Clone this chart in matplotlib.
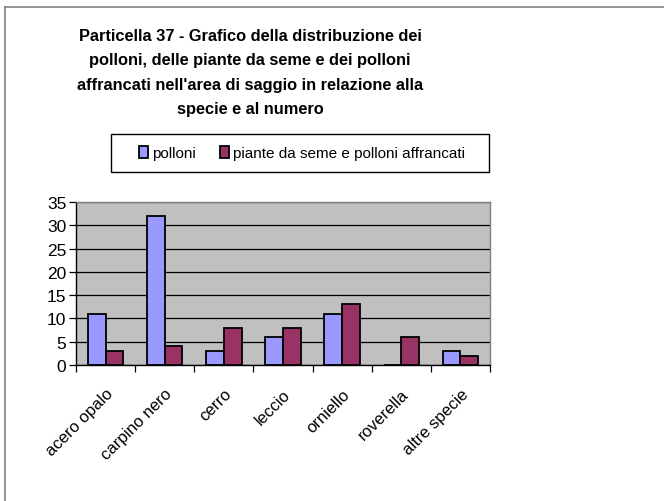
import numpy as np
import matplotlib.pyplot as plt
from matplotlib.patches import Rectangle
from matplotlib.lines import Line2D

plt.rcParams['font.family'] = ['Liberation Sans', 'DejaVu Sans']

species = ['acero opalo', 'carpino nero', 'cerro', 'leccio', 'orniello', 'roverella', 'altre specie']
polloni = [11, 32, 3, 6, 11, 0, 3]
piante_seme = [3, 4, 8, 8, 13, 6, 2]
series_names = ['polloni', 'piante da seme e polloni affrancati']
title = ("Particella 37 - Grafico della distribuzione dei\n"
         "polloni, delle piante da seme e dei polloni\n"
         "affrancati nell'area di saggio in relazione alla\n"
         "specie e al numero")

c_blue = '#9999FF'
c_red = '#993366'

fig = plt.figure(figsize=(6.64, 5.02), dpi=100)
W, H = 664, 502

# bordo esterno del grafico (visibili solo sopra e a sinistra)
fig.add_artist(Line2D([5 / W, 5 / W], [0, 1 - 8 / H], color='#808080', lw=1.2))
fig.add_artist(Line2D([5 / W, 1], [1 - 8 / H, 1 - 8 / H], color='#808080', lw=1.2))

ax = fig.add_axes([76 / W, 1 - 366 / H, 414 / W, 163 / H])
ax.set_facecolor('#C0C0C0')

x = np.arange(len(species))
bw = 0.3
ax.bar(x - bw / 2, polloni, bw, color=c_blue, edgecolor='black', linewidth=1.3, zorder=3)
ax.bar(x + bw / 2, piante_seme, bw, color=c_red, edgecolor='black', linewidth=1.3, zorder=3)

ax.set_xlim(-0.5, len(species) - 0.5)
ax.set_ylim(0, 35)
ax.set_yticks(range(0, 36, 5))
ax.yaxis.grid(True, color='black', lw=0.9, zorder=1)
ax.set_axisbelow(True)

ax.set_xticks(np.arange(-0.5, len(species), 1))
ax.set_xticklabels([])
ax.set_xticks(x, minor=True)
ax.set_xticklabels(species, minor=True, rotation=45, ha='right', rotation_mode='anchor', fontsize=12)
ax.tick_params(axis='x', which='minor', length=0, pad=15)
ax.tick_params(axis='x', which='major', length=5, width=0.9, color='black')
ax.tick_params(axis='y', length=5, width=0.9, labelsize=12.5, pad=2)

ax.spines['left'].set_color('black')
ax.spines['bottom'].set_color('black')
ax.spines['top'].set_color('#808080')
ax.spines['right'].set_color('#808080')
for s in ax.spines.values():
    s.set_linewidth(1.0)

fig.text(250 / W, 1 - 73 / H, title, ha='center', va='center', fontsize=11.8,
         fontweight='bold', linespacing=1.8)

# riquadro della legenda
fig.add_artist(Rectangle((111 / W, 1 - 173 / H), 378 / W, 38 / H, transform=fig.transFigure,
                         facecolor='white', edgecolor='black', lw=1.0))
handles = [Rectangle((0, 0), 1, 1, facecolor=c, edgecolor='black', lw=1.3) for c in (c_blue, c_red)]
fig.legend(handles, series_names, loc='center', bbox_to_anchor=(302 / W, 1 - 154 / H),
           ncol=2, frameon=False, fontsize=11, handlelength=0.6, handleheight=0.9,
           handletextpad=0.25, columnspacing=1.55)

fig.savefig('out.png', dpi=100)
